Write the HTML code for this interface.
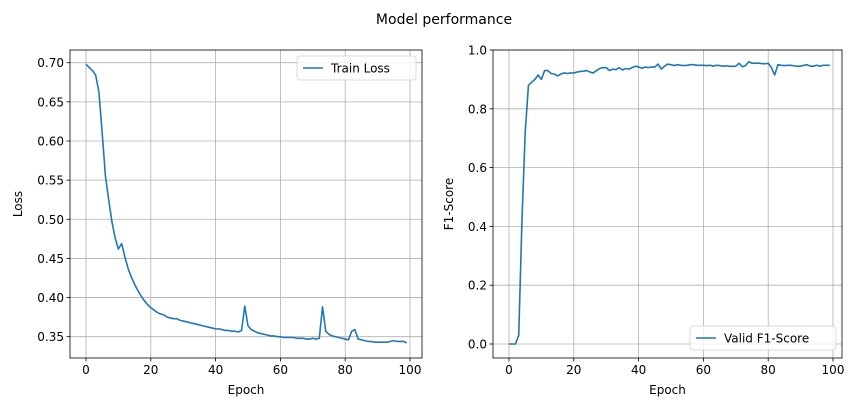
<!DOCTYPE html>
<html><head><meta charset="utf-8"><style>
body{margin:0;background:#fff;}
svg{display:block;font-family:"DejaVu Sans","Liberation Sans",sans-serif;}
</style></head><body>
<svg id="c" width="855" height="411">
<text x="444" y="24" font-size="14" text-anchor="middle">Model performance</text>
</svg>
<script>
const lossValues=[0.698,0.694,0.690,0.684,0.662,0.610,0.555,0.525,0.497,0.476,0.462,0.469,0.452,0.437,0.426,0.417,0.409,0.402,0.396,0.391,0.387,0.384,0.381,0.379,0.378,0.375,0.374,0.373,0.373,0.371,0.370,0.369,0.368,0.367,0.366,0.365,0.364,0.363,0.362,0.361,0.360,0.360,0.359,0.358,0.358,0.357,0.357,0.356,0.358,0.389,0.364,0.359,0.357,0.355,0.354,0.353,0.352,0.351,0.351,0.350,0.350,0.349,0.349,0.349,0.349,0.348,0.348,0.348,0.347,0.347,0.348,0.347,0.348,0.388,0.357,0.353,0.351,0.350,0.349,0.348,0.347,0.346,0.357,0.359,0.347,0.346,0.345,0.344,0.344,0.343,0.343,0.343,0.343,0.343,0.344,0.345,0.344,0.344,0.344,0.342];
const f1Values=[0,0,0,0.03,0.42,0.72,0.88,0.89,0.90,0.915,0.90,0.93,0.93,0.92,0.918,0.912,0.918,0.922,0.92,0.922,0.922,0.925,0.927,0.928,0.93,0.925,0.922,0.93,0.937,0.94,0.94,0.93,0.935,0.933,0.94,0.932,0.937,0.935,0.94,0.945,0.942,0.938,0.942,0.94,0.942,0.942,0.952,0.935,0.945,0.952,0.95,0.947,0.95,0.948,0.947,0.948,0.95,0.95,0.948,0.948,0.948,0.947,0.948,0.945,0.948,0.947,0.945,0.946,0.945,0.944,0.945,0.955,0.943,0.947,0.96,0.955,0.955,0.955,0.954,0.953,0.955,0.94,0.915,0.95,0.948,0.947,0.948,0.948,0.946,0.945,0.945,0.948,0.95,0.945,0.945,0.948,0.945,0.948,0.948,0.948];
const xTicks=[0,20,40,60,80,100];
const lossTicks=[0.35,0.40,0.45,0.50,0.55,0.60,0.65,0.70];
const f1Ticks=[0.0,0.2,0.4,0.6,0.8,1.0];
const svg=document.getElementById('c');
const NS='http://www.w3.org/2000/svg';
function mk(t,a,p){const e=document.createElementNS(NS,t);for(const k in a)e.setAttribute(k,a[k]);(p||svg).appendChild(e);return e;}
function panel(o){
  const g=mk('g',{});
  
  
  const X=v=>o.x0+(v-0)/(100)*(o.x100-o.x0);
  const Y=v=>o.yA+(v-o.vA)/(o.vB-o.vA)*(o.yB-o.yA);
  xTicks.forEach(t=>{const x=X(t);
    const l=mk('line',{x1:x,x2:x,y1:o.top,y2:o.bot,stroke:'#b0b0b0','stroke-width':0.8},g);
    
    mk('line',{x1:x,x2:x,y1:o.bot,y2:o.bot+3.5,stroke:'#000','stroke-width':0.8},g);
    const tx=mk('text',{x:x,y:o.bot+16,'font-size':12,'text-anchor':'middle'},g);tx.textContent=t;
    });
  o.ticks.forEach(t=>{const y=Y(t);
    const l=mk('line',{x1:o.left,x2:o.right,y1:y,y2:y,stroke:'#b0b0b0','stroke-width':0.8},g);
    
    mk('line',{x1:o.left-3.5,x2:o.left,y1:y,y2:y,stroke:'#000','stroke-width':0.8},g);
    const tx=mk('text',{x:o.left-6,y:y+4.5,'font-size':12,'text-anchor':'end'},g);tx.textContent=t.toFixed(o.dec);
    });
  const d=o.data.map((v,i)=>(i?'L':'M')+X(i).toFixed(2)+','+Y(v).toFixed(2)).join('');
  const p=mk('path',{d:d,fill:'none',stroke:'#1f77b4','stroke-width':1.6,'stroke-linejoin':'round'},g);
  
  const r=mk('rect',{x:o.left,y:o.top,width:o.right-o.left,height:o.bot-o.top,fill:'none',stroke:'#000','stroke-width':0.8},g);
  
  const xl=mk('text',{x:(o.left+o.right)/2,y:o.bot+36,'font-size':12,'text-anchor':'middle'},g);xl.textContent='Epoch';
  
  const yx=o.left-o.ylOff,yy=(o.top+o.bot)/2;
  const yl=mk('text',{x:yx,y:yy,'font-size':12,'text-anchor':'middle',transform:`rotate(-90 ${yx} ${yy})`},g);yl.textContent=o.ylabel;
  
  const lg=mk('g',{},g);
  
  mk('rect',{x:o.lx,y:o.ly,width:o.lw,height:24,rx:3,fill:'#fff','fill-opacity':0.8,stroke:'#d0d0d0','stroke-width':0.8},lg);
  mk('line',{x1:o.lx+6,x2:o.lx+26,y1:o.ly+12,y2:o.ly+12,stroke:'#1f77b4','stroke-width':1.6},lg);
  const lt=mk('text',{x:o.lx+34,y:o.ly+16.5,'font-size':12},lg);lt.textContent=o.legend;
  
}
panel({name:'loss-panel',series:'train-loss-line',left:70,right:422,top:50,bot:358,x0:86,x100:410,yA:62.7,vA:0.70,yB:336.7,vB:0.35,ticks:lossTicks,dec:2,data:lossValues,ylabel:'Loss',ylOff:48,lx:297,ly:56,lw:119,legend:'Train Loss'});
panel({name:'f1-panel',series:'valid-f1-line',left:493,right:842,top:50,bot:358,x0:509,x100:833,yA:50,vA:1.0,yB:344,vB:0.0,ticks:f1Ticks,dec:1,data:f1Values,ylabel:'F1-Score',ylOff:40,lx:690,ly:326,lw:146,legend:'Valid F1-Score'});
</script>
</body></html>
